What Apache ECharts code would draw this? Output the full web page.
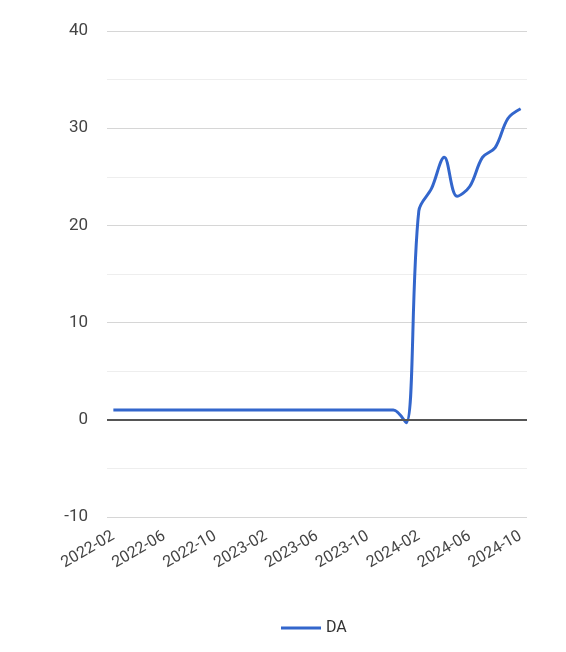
<!DOCTYPE html>
<html>
<head>
<meta charset="utf-8">
<script src="https://cdn.jsdelivr.net/npm/echarts@6/dist/echarts.min.js"></script>
<style>
html,body{margin:0;padding:0;background:#fff;}
#c{width:566px;height:652px;}
</style>
</head>
<body>
<div id="c"></div>
<script>
const months = ['2022-02','2022-03','2022-04','2022-05','2022-06','2022-07','2022-08','2022-09','2022-10','2022-11','2022-12',
  '2023-01','2023-02','2023-03','2023-04','2023-05','2023-06','2023-07','2023-08','2023-09','2023-10','2023-11','2023-12',
  '2024-01','2024-02','2024-03','2024-04','2024-05','2024-06','2024-07','2024-08','2024-09','2024-10'];
const seriesName = 'DA';
const daValues = [1,1,1,1,1,1,1,1,1,1,1,
  1,1,1,1,1,1,1,1,1,1,1,1,
  -0.3,21.5,23.8,27,23,24,27,28,31,32];
const yMin = -10, yMax = 40, yStep = 10;

const chart = echarts.init(document.getElementById('c'));
chart.setOption({
  animation: false,
  textStyle: {fontFamily: 'Roboto'},
  grid: {left: 107, right: 39, top: 31, bottom: 135},
  legend: {
    top: 615, left: 276,
    itemWidth: 40, itemHeight: 3, itemGap: 8,
    textStyle: {fontSize: 16, color: '#333', fontFamily: 'Roboto'},
    data: [{name: seriesName, icon: 'rect'}]
  },
  xAxis: {
    type: 'category',
    data: months,
    boundaryGap: true,
    axisLine: {show: false, onZero: false},
    axisTick: {show: false},
    axisLabel: {
      interval: 3, rotate: 30, margin: 18,
      fontSize: 16, color: '#444', fontFamily: 'Roboto'
    },
    splitLine: {show: false}
  },
  yAxis: {
    type: 'value',
    min: yMin, max: yMax, interval: yStep,
    axisLine: {show: false},
    axisTick: {show: false},
    axisLabel: {fontSize: 17, color: '#444', margin: 19, fontFamily: 'Roboto'},
    splitLine: {lineStyle: {color: '#d6d6d6', width: 1}},
    minorTick: {show: false, splitNumber: 2},
    minorSplitLine: {show: true, lineStyle: {color: '#eeeeee', width: 1}}
  },
  series: [{
    name: seriesName,
    type: 'line',
    data: daValues,
    smooth: 0.35,
    showSymbol: false,
    lineStyle: {color: '#3366cc', width: 3},
    itemStyle: {color: '#3366cc'},
    markLine: {
      silent: true,
      symbol: 'none',
      label: {show: false},
      lineStyle: {color: '#555', width: 2, type: 'solid'},
      data: [{yAxis: 0}]
    },
    z: 3
  }]
});
</script>
</body>
</html>
